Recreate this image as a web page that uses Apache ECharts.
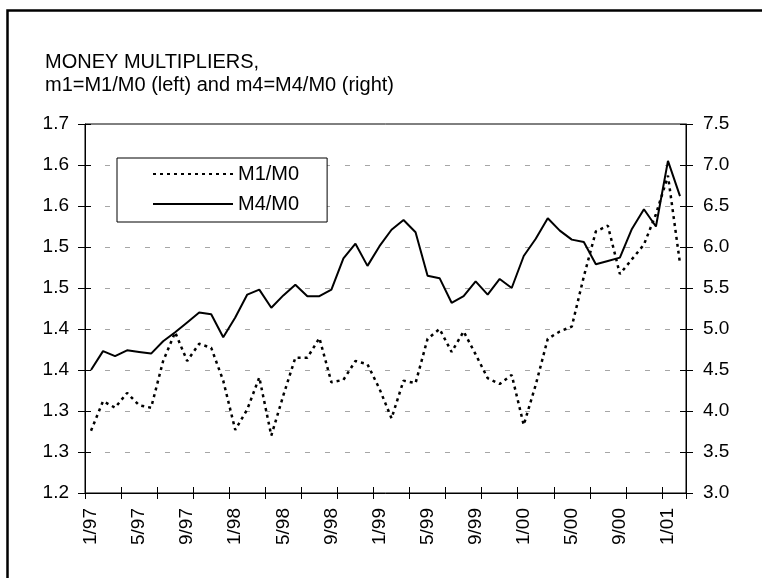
<!DOCTYPE html>
<html>
<head>
<meta charset="utf-8">
<script src="https://cdn.jsdelivr.net/npm/echarts@6/dist/echarts.min.js"></script>
<style>
html, body { margin: 0; padding: 0; background: #fff; }
#main { width: 762px; height: 578px; }
</style>
</head>
<body>
<div id="main"></div>
<script>
// monthly, 1/97 .. 2/01
var months = ['1/97', '2/97', '3/97', '4/97', '5/97', '6/97', '7/97', '8/97', '9/97', '10/97', '11/97', '12/97',
	'1/98', '2/98', '3/98', '4/98', '5/98', '6/98', '7/98', '8/98', '9/98', '10/98', '11/98', '12/98',
	'1/99', '2/99', '3/99', '4/99', '5/99', '6/99', '7/99', '8/99', '9/99', '10/99', '11/99', '12/99',
	'1/00', '2/00', '3/00', '4/00', '5/00', '6/00', '7/00', '8/00', '9/00', '10/00', '11/00', '12/00',
	'1/01', '2/01'];

// m1 = M1/M0, left axis
var m1 = [1.276, 1.312, 1.304, 1.322, 1.307, 1.304, 1.361, 1.396, 1.361, 1.382, 1.377, 1.337,
	1.277, 1.302, 1.341, 1.270, 1.319, 1.365, 1.365, 1.389, 1.335, 1.338, 1.361, 1.357,
	1.327, 1.291, 1.337, 1.334, 1.388, 1.400, 1.372, 1.397, 1.369, 1.340, 1.333, 1.344,
	1.283, 1.332, 1.388, 1.397, 1.403, 1.464, 1.519, 1.526, 1.467, 1.485, 1.503, 1.540,
	1.587, 1.480];

// m4 = M4/M0, right axis
var m4 = [4.50, 4.73, 4.67, 4.74, 4.72, 4.70, 4.85, 4.96, 5.08, 5.20, 5.18, 4.90,
	5.14, 5.42, 5.48, 5.26, 5.41, 5.54, 5.40, 5.40, 5.48, 5.86, 6.04, 5.77,
	6.01, 6.21, 6.33, 6.18, 5.65, 5.62, 5.32, 5.40, 5.58, 5.42, 5.61, 5.50,
	5.89, 6.10, 6.35, 6.20, 6.09, 6.06, 5.79, 5.83, 5.87, 6.22, 6.46, 6.25,
	7.05, 6.62];

var leftAxis = {min: 1.2, max: 1.65, interval: 0.05};
var rightAxis = {min: 3.0, max: 7.5, interval: 0.5};

var font = 'Liberation Sans, Arial, sans-serif';
var black = '#000';

var chart = echarts.init(document.getElementById('main'));

function oneDecimal(v) {
	return (Math.round(v * 10 + 1e-6) / 10).toFixed(1);
}

// ticks in Excel cross the axis: outer half on the real axis, inner half on a twin
function tickAxis(base) {
	return {
		type: 'value',
		position: base.position,
		min: base.min,
		max: base.max,
		interval: base.interval,
		axisLine: {show: false},
		axisTick: {show: true, inside: true, length: 6, lineStyle: {color: black}},
		axisLabel: {show: false},
		splitLine: {show: false}
	};
}

var option = {
	animation: false,
	backgroundColor: '#fff',
	textStyle: {fontFamily: font},
	title: {
		text: 'MONEY MULTIPLIERS,\nm1=M1/M0 (left) and m4=M4/M0 (right)',
		left: 40,
		top: 46,
		textStyle: {fontSize: 20, fontWeight: 'normal', color: black, lineHeight: 23, fontFamily: font}
	},
	legend: {
		orient: 'vertical',
		left: 117,
		top: 158,
		padding: [6, 28, 8, 35],
		itemWidth: 80,
		itemHeight: 14,
		itemGap: 10,
		backgroundColor: '#fff',
		borderColor: black,
		borderWidth: 1,
		itemStyle: {color: 'rgba(0,0,0,0)', borderWidth: 0, opacity: 0},
		textStyle: {fontSize: 20, color: black, fontFamily: font},
		data: ['M1/M0', 'M4/M0']
	},
	grid: {
		left: 85,
		right: 76,
		top: 124,
		bottom: 85,
		show: true,
		borderColor: black,
		borderWidth: 1,
		outerBoundsMode: 'none'
	},
	graphic: [{
		type: 'rect',
		shape: {x: 7.5, y: 10.5, width: 820, height: 700},
		style: {fill: 'none', stroke: black, lineWidth: 2.5},
		silent: true
	}],
	xAxis: [
		{
			type: 'category',
			data: months,
			boundaryGap: true,
			position: 'bottom',
			axisLine: {lineStyle: {color: black, width: 1}},
			axisTick: {show: true, interval: 2, length: 6, lineStyle: {color: black}},
			axisLabel: {interval: 3, rotate: 90, fontSize: 19, color: black, margin: 15, fontFamily: font},
			splitLine: {show: false}
		},
		{
			type: 'category',
			data: months,
			boundaryGap: true,
			position: 'bottom',
			axisLine: {show: false},
			axisTick: {show: true, inside: true, interval: 2, length: 6, lineStyle: {color: black}},
			axisLabel: {show: false},
			splitLine: {show: false}
		}
	],
	yAxis: [
		{
			type: 'value',
			position: 'left',
			min: leftAxis.min,
			max: leftAxis.max,
			interval: leftAxis.interval,
			axisLine: {show: true, lineStyle: {color: black, width: 1}},
			axisTick: {show: true, length: 7, lineStyle: {color: black}},
			axisLabel: {fontSize: 19, color: black, margin: 16, formatter: oneDecimal, fontFamily: font},
			splitLine: {
				show: true,
				showMinLine: false,
				showMaxLine: false,
				lineStyle: {color: '#a6a6a6', width: 1, type: [5, 15]}
			}
		},
		{
			type: 'value',
			position: 'right',
			min: rightAxis.min,
			max: rightAxis.max,
			interval: rightAxis.interval,
			axisLine: {show: true, lineStyle: {color: black, width: 1}},
			axisTick: {show: true, length: 7, lineStyle: {color: black}},
			axisLabel: {fontSize: 19, color: black, margin: 17, fontFamily: font,
				formatter: function (v) { return v.toFixed(1); }},
			splitLine: {show: false}
		},
		tickAxis({position: 'left', min: leftAxis.min, max: leftAxis.max, interval: leftAxis.interval}),
		tickAxis({position: 'right', min: rightAxis.min, max: rightAxis.max, interval: rightAxis.interval})
	],
	series: [
		{
			name: 'M1/M0',
			type: 'line',
			xAxisIndex: 0,
			yAxisIndex: 0,
			symbol: 'none',
			lineStyle: {color: black, width: 2.5, type: [3, 4]},
			itemStyle: {color: black},
			data: m1
		},
		{
			name: 'M4/M0',
			type: 'line',
			xAxisIndex: 0,
			yAxisIndex: 1,
			symbol: 'none',
			lineStyle: {color: black, width: 2, type: 'solid'},
			itemStyle: {color: black},
			data: m4
		}
	]
};

chart.setOption(option);
</script>
</body>
</html>
